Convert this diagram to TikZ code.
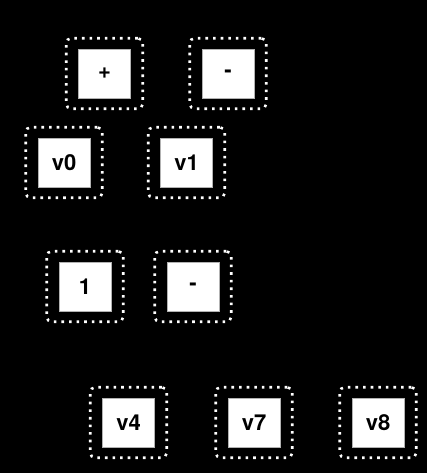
\documentclass[tikz,border=0pt]{standalone}
\usepackage{fontspec}
\setmainfont{TeX Gyre Heros}
\begin{document}
\begin{tikzpicture}[x=1pt,y=-1pt,
  frame/.style={draw=white, line width=2.6pt, dash pattern=on 2.6pt off 5pt, rounded corners=5pt,
    minimum width=76.5pt, minimum height=70.5pt, inner sep=0pt},
  box/.style={fill=white, draw=gray!60, line width=0.5pt, minimum width=52pt, minimum height=49pt,
    inner sep=0pt, font=\fontsize{22}{26}\selectfont\bfseries, text=black}]
\fill[black] (0,0) rectangle (427,473);
\useasboundingbox (0,0) rectangle (427,473);
\node[frame] (fplus) at (104.5,73.5) {};
\node[box] (plus) at (fplus.center) {+};
\node[frame] (fminusa) at (228,73.5) {};
\node[box] (minusa) at (fminusa.center) {-};
\node[frame] (fv0) at (64,162.5) {};
\node[box] (v0) at (fv0.center) {v0};
\node[frame] (fv1) at (186.5,162.5) {};
\node[box] (v1) at (fv1.center) {v1};
\node[frame] (fone) at (85,286.5) {};
\node[box] (one) at (fone.center) {1};
\node[frame] (fminusb) at (193,286.5) {};
\node[box] (minusb) at (fminusb.center) {-};
\node[frame] (fv4) at (128.5,422.5) {};
\node[box] (v4) at (fv4.center) {v4};
\node[frame] (fv7) at (254,422.5) {};
\node[box] (v7) at (fv7.center) {v7};
\node[frame] (fv8) at (378,422.5) {};
\node[box] (v8) at (fv8.center) {v8};
\end{tikzpicture}
\end{document}
